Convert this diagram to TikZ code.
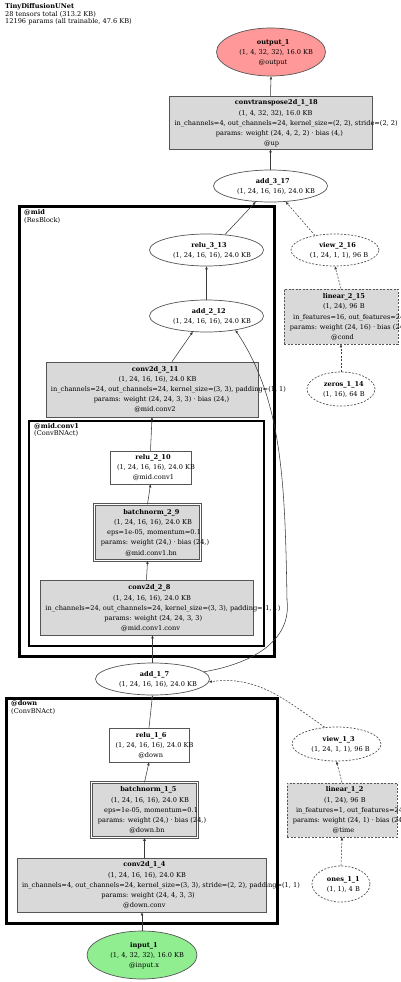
\documentclass[tikz,border=0pt]{standalone}
\usepackage{fontspec}
\setmainfont{DejaVu Serif}
\usetikzlibrary{arrows.meta,shapes.geometric}
\definecolor{boxgray}{HTML}{D9D9D9}
\definecolor{outred}{HTML}{FF9999}
\definecolor{ingreen}{HTML}{90EE90}
\definecolor{edgec}{HTML}{3A3A3A}
\definecolor{bordc}{HTML}{555555}
\newcommand\fsz{\fontsize{6.6pt}{7.8pt}\selectfont}
\newcounter{tlc}
\newcommand\tln[3]{\stepcounter{tlc}\node[txt] (t\arabic{tlc}) at (#1,#2) {\makebox[0.86\width][l]{#3}};}
\newcommand\lln[3]{\stepcounter{tlc}\node[txt,anchor=mid west] (t\arabic{tlc}) at (#1,#2) {#3};}
\tikzset{
  txt/.style={inner sep=0pt, anchor=mid, font=\fsz, text=black},
  ell/.style={ellipse, draw=bordc, line width=0.7pt, fill=white, inner sep=0pt},
  box/.style={rectangle, draw=bordc, line width=0.7pt, fill=boxgray, inner sep=0pt},
  dbox/.style={rectangle, draw=bordc, double=white, double distance=1.3pt, line width=0.55pt, fill=boxgray, inner sep=0pt},
  dsh/.style={dash pattern=on 2pt off 1.5pt},
  arr/.style={draw=edgec, line width=0.55pt, -{Triangle[length=3pt,width=2.4pt]}},
  clus/.style={draw=black},
}
\begin{document}
\begin{tikzpicture}[x=1pt,y=-1pt]
\useasboundingbox (0,0) rectangle (400,982);
% header
\lln{5}{6}{\textbf{TinyDiffusionUNet}}
\lln{5}{13.5}{28 tensors total (313.2 KB)}
\lln{5}{21}{12196 params (all trainable, 47.6 KB)}
% clusters
\draw[clus, line width=3pt] (19,206) rectangle (274,656);
\draw[clus, line width=2pt] (29,421) rectangle (264,646);
\draw[clus, line width=3pt] (6,698) rectangle (277,923);
\lln{24}{212}{\textbf{@mid}}
\lln{24}{219.5}{(ResBlock)}
\lln{34}{426}{\textbf{@mid.conv1}}
\lln{34}{433}{(ConvBNAct)}
\lln{11}{703}{\textbf{@down}}
\lln{11}{710.5}{(ConvBNAct)}
% shapes
\node[ell, fill=outred, minimum width=109pt, minimum height=48pt] (out1) at (271,52) {};
\node[box, minimum width=203pt, minimum height=53pt] (ct118) at (270.5,122.5) {};
\node[ell, minimum width=114pt, minimum height=32pt] (a317) at (270.5,186) {};
\node[ell, minimum width=114pt, minimum height=32pt] (r313) at (206.5,250) {};
\node[ell, dsh, minimum width=88pt, minimum height=32pt] (v216) at (335,250) {};
\node[ell, minimum width=114pt, minimum height=32pt] (a212) at (206.5,316) {};
\node[box, dsh, minimum width=114pt, minimum height=55pt] (l215) at (341,316.5) {};
\node[ell, dsh, minimum width=68pt, minimum height=34pt] (z114) at (341,389) {};
\node[box, minimum width=212pt, minimum height=55pt] (c311) at (152,389.5) {};
\node[box, fill=white, minimum width=81pt, minimum height=33pt] (r210) at (150.5,467.5) {};
\node[dbox, minimum width=106pt, minimum height=56pt] (bn29) at (147.5,532.5) {};
\node[box, minimum width=213pt, minimum height=55pt] (c28) at (146.5,607.5) {};
\node[ell, minimum width=114pt, minimum height=32pt] (a17) at (152.5,679) {};
\node[box, fill=white, minimum width=80pt, minimum height=34pt] (r16) at (149,745) {};
\node[ell, dsh, minimum width=89pt, minimum height=34pt] (v13) at (336.5,744) {};
\node[dbox, minimum width=106pt, minimum height=55pt] (bn15) at (144.5,810) {};
\node[box, dsh, minimum width=110pt, minimum height=54pt] (l12) at (342,810) {};
\node[box, minimum width=249pt, minimum height=54pt] (c14) at (141.5,885) {};
\node[ell, dsh, minimum width=58pt, minimum height=36pt] (o11) at (341,884) {};
\node[ell, fill=ingreen, minimum width=110pt, minimum height=48pt] (in1) at (142,955) {};
% edges
\draw[arr] (in1.north) -- (in1.north |- c14.south);
\draw[arr] (c14.north -| bn15.south) -- (bn15.south);
\draw[arr] (bn15.north) -- (r16.south);
\draw[arr] (r16.north) -- (a17.south);
\draw[arr,dsh] (o11.north) -- (l12.south);
\draw[arr,dsh] (l12.north) -- (v13.south);
\draw[arr,dsh] (v13.125) to[out=145,in=8] (a17.-3);
\draw[arr] (a17.north) -- (a17.north |- c28.south);
\draw[arr] (c28.north) -- (bn29.south);
\draw[arr] (bn29.north) -- (r210.south);
\draw[arr] (r210.north) -- (c311.south);
\draw[arr] ([xshift=20pt]c311.north) -- (a212.-131);
\draw[arr] (a17.8) .. controls (250,664) and (292,642) .. (287,600) .. controls (285,480) and (282,400) .. (a212.-26);
\draw[arr] (a212.north) -- (r313.south);
\draw[arr] (r313.40) -- (a317.-133);
\draw[arr,dsh] (z114.north) -- (l215.south);
\draw[arr,dsh] (l215.north) -- (v216.south);
\draw[arr,dsh] (v216.144) -- (a317.-46);
\draw[arr] (a317.north) -- (ct118.south);
\draw[arr] (ct118.north) -- (out1.south);
% texts
\tln{271}{42}{\textbf{output\_1}}
\tln{271}{52}{(1, 4, 32, 32), 16.0 KB}
\tln{271}{62}{@output}
\tln{270.5}{102}{\textbf{convtranspose2d\_1\_18}}
\tln{270.5}{112.5}{(1, 4, 32, 32), 16.0 KB}
\tln{270.5}{122.5}{in\_channels=4, out\_channels=24, kernel\_size=(2, 2), stride=(2, 2)}
\tln{270.5}{132.5}{params: weight (24, 4, 2, 2) · bias (4,)}
\tln{270.5}{143}{@up}
\tln{270.5}{181}{\textbf{add\_3\_17}}
\tln{270.5}{191}{(1, 24, 16, 16), 24.0 KB}
\tln{206.5}{245}{\textbf{relu\_3\_13}}
\tln{206.5}{255}{(1, 24, 16, 16), 24.0 KB}
\tln{335}{245}{\textbf{view\_2\_16}}
\tln{335}{255}{(1, 24, 1, 1), 96 B}
\tln{206.5}{311}{\textbf{add\_2\_12}}
\tln{206.5}{321}{(1, 24, 16, 16), 24.0 KB}
\tln{341}{296}{\textbf{linear\_2\_15}}
\tln{341}{306}{(1, 24), 96 B}
\tln{341}{316.5}{in\_features=16, out\_features=24}
\tln{341}{327}{params: weight (24, 16) · bias (24,)}
\tln{341}{337}{@cond}
\tln{341}{384}{\textbf{zeros\_1\_14}}
\tln{341}{394}{(1, 16), 64 B}
\tln{152}{369}{\textbf{conv2d\_3\_11}}
\tln{152}{379}{(1, 24, 16, 16), 24.0 KB}
\tln{152}{389}{in\_channels=24, out\_channels=24, kernel\_size=(3, 3), padding=(1, 1)}
\tln{152}{399}{params: weight (24, 24, 3, 3) · bias (24,)}
\tln{152}{409}{@mid.conv2}
\tln{150.5}{457}{\textbf{relu\_2\_10}}
\tln{150.5}{467}{(1, 24, 16, 16), 24.0 KB}
\tln{150.5}{477}{@mid.conv1}
\tln{147.5}{512}{\textbf{batchnorm\_2\_9}}
\tln{147.5}{522}{(1, 24, 16, 16), 24.0 KB}
\tln{147.5}{532}{eps=1e-05, momentum=0.1}
\tln{147.5}{542}{params: weight (24,) · bias (24,)}
\tln{147.5}{553}{@mid.conv1.bn}
\tln{146.5}{587}{\textbf{conv2d\_2\_8}}
\tln{146.5}{598}{(1, 24, 16, 16), 24.0 KB}
\tln{146.5}{608}{in\_channels=24, out\_channels=24, kernel\_size=(3, 3), padding=(1, 1)}
\tln{146.5}{618}{params: weight (24, 24, 3, 3)}
\tln{146.5}{628}{@mid.conv1.conv}
\tln{152.5}{673.5}{\textbf{add\_1\_7}}
\tln{152.5}{683.5}{(1, 24, 16, 16), 24.0 KB}
\tln{149}{735}{\textbf{relu\_1\_6}}
\tln{149}{745}{(1, 24, 16, 16), 24.0 KB}
\tln{149}{755}{@down}
\tln{336.5}{739}{\textbf{view\_1\_3}}
\tln{336.5}{749}{(1, 24, 1, 1), 96 B}
\tln{144.5}{789}{\textbf{batchnorm\_1\_5}}
\tln{144.5}{800}{(1, 24, 16, 16), 24.0 KB}
\tln{144.5}{810}{eps=1e-05, momentum=0.1}
\tln{144.5}{820}{params: weight (24,) · bias (24,)}
\tln{144.5}{830}{@down.bn}
\tln{342}{789}{\textbf{linear\_1\_2}}
\tln{342}{800}{(1, 24), 96 B}
\tln{342}{810}{in\_features=1, out\_features=24}
\tln{342}{820}{params: weight (24, 1) · bias (24,)}
\tln{342}{830}{@time}
\tln{141.5}{864}{\textbf{conv2d\_1\_4}}
\tln{141.5}{875}{(1, 24, 16, 16), 24.0 KB}
\tln{141.5}{885}{in\_channels=4, out\_channels=24, kernel\_size=(3, 3), stride=(2, 2), padding=(1, 1)}
\tln{141.5}{895}{params: weight (24, 4, 3, 3)}
\tln{141.5}{905}{@down.conv}
\tln{341}{879}{\textbf{ones\_1\_1}}
\tln{341}{889}{(1, 1), 4 B}
\tln{142}{945}{\textbf{input\_1}}
\tln{142}{955}{(1, 4, 32, 32), 16.0 KB}
\tln{142}{965}{@input.x}
\end{tikzpicture}
\end{document}
